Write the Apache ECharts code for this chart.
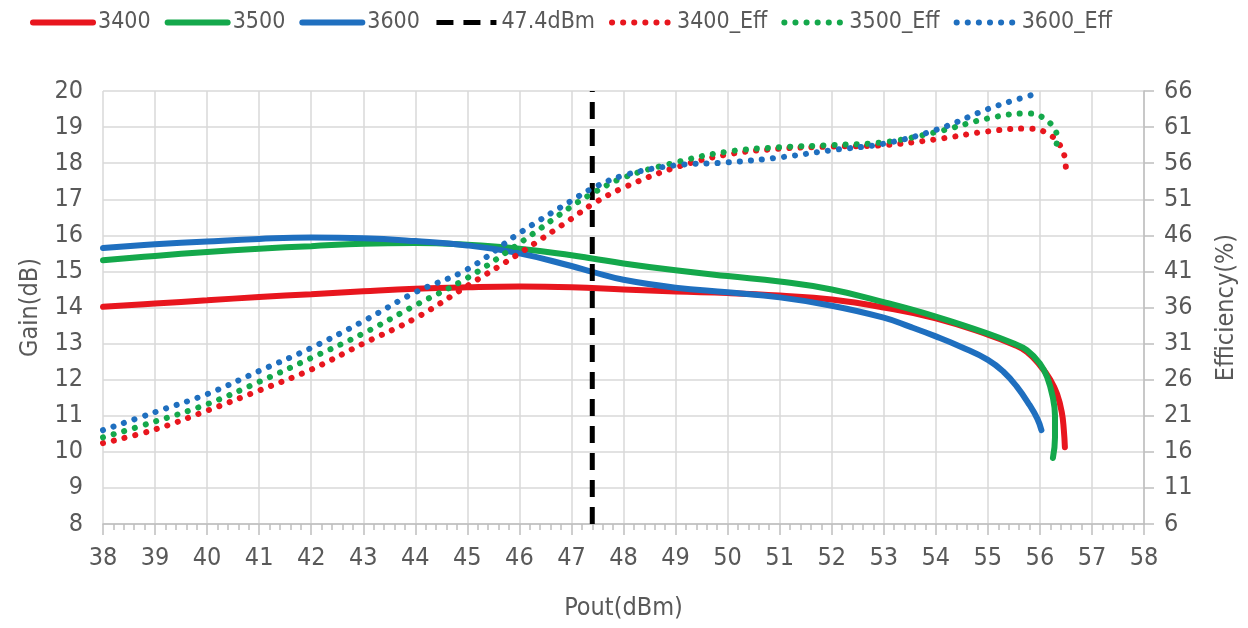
<!DOCTYPE html>
<html>
<head>
<meta charset="utf-8">
<title>gain_eff.html</title>
<script src="https://cdn.jsdelivr.net/npm/echarts@6/dist/echarts.min.js"></script>
<style>
html,body{margin:0;padding:0;background:#fff}
#chart{width:1248px;height:628px}
</style>
</head>
<body>
<div id="chart"></div>
<script>
// Pout (dBm) points and gain (dB) for each band
var gainX3400 = [38, 39, 40, 41, 42, 43, 44, 45, 46, 47, 48, 49, 50, 51, 52, 53, 54, 55, 55.5, 55.75, 56, 56.2, 56.33, 56.42, 56.46, 56.48];
var gain3400  = [14.02, 14.11, 14.2, 14.29, 14.37, 14.45, 14.52, 14.56, 14.58, 14.56, 14.5, 14.44, 14.4, 14.33, 14.22, 14.0, 13.7, 13.25, 12.97, 12.77, 12.4, 12.0, 11.6, 11.1, 10.6, 10.13];

var gainX3500 = [38, 39, 40, 41, 42, 43, 44, 45, 46, 47, 47.4, 48, 49, 50, 51, 52, 53, 54, 55, 55.5, 55.75, 56, 56.14, 56.25, 56.29, 56.29, 56.25];
var gain3500  = [15.31, 15.43, 15.54, 15.63, 15.7, 15.77, 15.79, 15.74, 15.63, 15.45, 15.36, 15.22, 15.03, 14.87, 14.72, 14.5, 14.15, 13.75, 13.28, 13.0, 12.82, 12.45, 12.07, 11.5, 11.0, 10.4, 9.83];

var gainX3600 = [38, 39, 40, 41, 42, 43, 44, 45, 46, 47, 47.4, 48, 49, 50, 51, 52, 53, 53.5, 54, 54.5, 55, 55.3, 55.55, 55.8, 55.95, 56.03];
var gain3600  = [15.65, 15.75, 15.83, 15.9, 15.94, 15.92, 15.84, 15.72, 15.5, 15.15, 14.99, 14.77, 14.55, 14.42, 14.28, 14.05, 13.72, 13.47, 13.2, 12.9, 12.55, 12.22, 11.82, 11.3, 10.92, 10.6];

// efficiency (%)
var effX3400 = [38, 39, 40, 41, 42, 43, 44, 45, 46, 47, 47.4, 48, 49, 50, 51, 52, 53, 54, 55, 55.75, 56.2, 56.45, 56.5];
var eff3400  = [17.2, 19.1, 21.7, 24.5, 27.4, 31.0, 34.5, 39.0, 43.5, 48.3, 50.3, 52.6, 55.4, 57.2, 58.0, 58.3, 58.5, 59.3, 60.4, 60.8, 59.9, 57.5, 55.0];

var effX3500 = [38, 39, 40, 41, 42, 43, 44, 45, 46, 47, 47.4, 48, 49, 50, 51, 52, 53, 54, 55, 55.75, 56.14, 56.33, 56.29];
var eff3500  = [18.0, 20.2, 22.6, 25.7, 29.0, 32.4, 36.3, 40.1, 44.9, 50.0, 51.8, 54.0, 56.1, 57.6, 58.2, 58.5, 58.9, 60.3, 62.2, 62.9, 61.9, 59.5, 57.4];

var effX3600 = [38, 39, 40, 41, 42, 43, 44, 45, 46, 47, 47.4, 48, 49, 50, 51, 52, 53, 54, 55, 55.5, 55.87];
var eff3600  = [19.0, 21.5, 24.0, 27.2, 30.4, 34.1, 38.1, 41.3, 46.3, 50.8, 52.5, 54.3, 55.7, 56.1, 56.8, 57.8, 58.7, 60.6, 63.5, 64.7, 65.5];

var markerPout = 47.4;
var effTicks = [6, 11, 16, 21, 26, 31, 36, 41, 46, 51, 56, 61, 66];

function pairs(xs, ys) {
  var out = [];
  for (var i = 0; i < xs.length; i++) out.push([xs[i], ys[i]]);
  return out;
}

var FONT = '"Liberation Sans Narrow", "DejaVu Sans Condensed", "Liberation Sans", sans-serif';
var TXT = '#595959';
var GRID = '#d9d9d9';
var RED = '#e8161e', GREEN = '#14a84b', BLUE = '#1f6fbf';

function solid(name, color, data) {
  return {
    name: name, type: 'line', data: data, yAxisIndex: 0,
    showSymbol: false, symbol: 'none', smooth: 0.45, z: 2,
    itemStyle: { color: color },
    lineStyle: { color: color, width: 6, cap: 'round' }
  };
}
function dotted(name, color, data) {
  return {
    name: name, type: 'line', data: data, yAxisIndex: 1,
    showSymbol: false, symbol: 'none', smooth: 0.4, z: 4,
    itemStyle: { color: color },
    lineStyle: { color: color, width: 6, type: [0.1, 11], cap: 'round' }
  };
}

var myChart = echarts.init(document.getElementById('chart'));
var option = {
  animation: false,
  textStyle: { fontFamily: FONT },
  legend: {
    left: 30, top: 11, padding: 0,
    itemWidth: 60, itemHeight: 14, itemGap: 14,
    itemStyle: { color: 'rgba(0,0,0,0)', borderWidth: 0 },
    lineStyle: { width: 'inherit' },
    textStyle: { fontFamily: FONT, fontSize: 23, color: TXT },
    data: ['3400', '3500', '3600', '47.4dBm', '3400_Eff', '3500_Eff', '3600_Eff']
  },
  grid: { left: 103, right: 104, top: 91, bottom: 104 },
  xAxis: {
    type: 'value', min: 38, max: 58, interval: 1,
    name: 'Pout(dBm)', nameLocation: 'middle', nameGap: 72,
    nameTextStyle: { fontFamily: FONT, fontSize: 25, color: TXT },
    axisLine: { show: true, lineStyle: { color: '#bfbfbf', width: 1.5 } },
    axisTick: { show: true, length: 11, lineStyle: { color: '#bfbfbf', width: 1.5 } },
    minorTick: { show: true, splitNumber: 5, length: 6, lineStyle: { color: '#bfbfbf', width: 1.5 } },
    axisLabel: { fontFamily: FONT, fontSize: 25, color: TXT, margin: 22 },
    splitLine: { show: true, lineStyle: { color: GRID, width: 1.5 } }
  },
  yAxis: [{
    type: 'value', min: 8, max: 20, interval: 1,
    name: 'Gain(dB)', nameLocation: 'middle', nameGap: 60,
    nameTextStyle: { fontFamily: FONT, fontSize: 25, color: TXT },
    axisLine: { show: false }, axisTick: { show: false },
    axisLabel: { fontFamily: FONT, fontSize: 25, color: TXT, margin: 20 },
    splitLine: { show: true, lineStyle: { color: GRID, width: 1.5 } }
  }, {
    type: 'value', min: 6, max: 66, position: 'right',
    name: 'Efficiency(%)', nameLocation: 'middle', nameGap: 70,
    nameTextStyle: { fontFamily: FONT, fontSize: 25, color: TXT },
    axisLine: { show: true, lineStyle: { color: '#bfbfbf', width: 1.5 } },
    axisTick: { show: true, length: 10, customValues: effTicks, lineStyle: { color: '#bfbfbf', width: 1.5 } },
    axisLabel: { fontFamily: FONT, fontSize: 25, color: TXT, margin: 20, customValues: effTicks },
    splitLine: { show: false }
  }],
  series: [
    solid('3400', RED, pairs(gainX3400, gain3400)),
    solid('3500', GREEN, pairs(gainX3500, gain3500)),
    solid('3600', BLUE, pairs(gainX3600, gain3600)),
    {
      name: '47.4dBm', type: 'line', yAxisIndex: 0, z: 3,
      data: [[markerPout, 8], [markerPout, 20]],
      showSymbol: false, symbol: 'none',
      itemStyle: { color: '#000' },
      lineStyle: { color: '#000', width: 5, type: [17, 10] }
    },
    dotted('3400_Eff', RED, pairs(effX3400, eff3400)),
    dotted('3500_Eff', GREEN, pairs(effX3500, eff3500)),
    dotted('3600_Eff', BLUE, pairs(effX3600, eff3600))
  ]
};
myChart.setOption(option);
</script>
</body>
</html>
